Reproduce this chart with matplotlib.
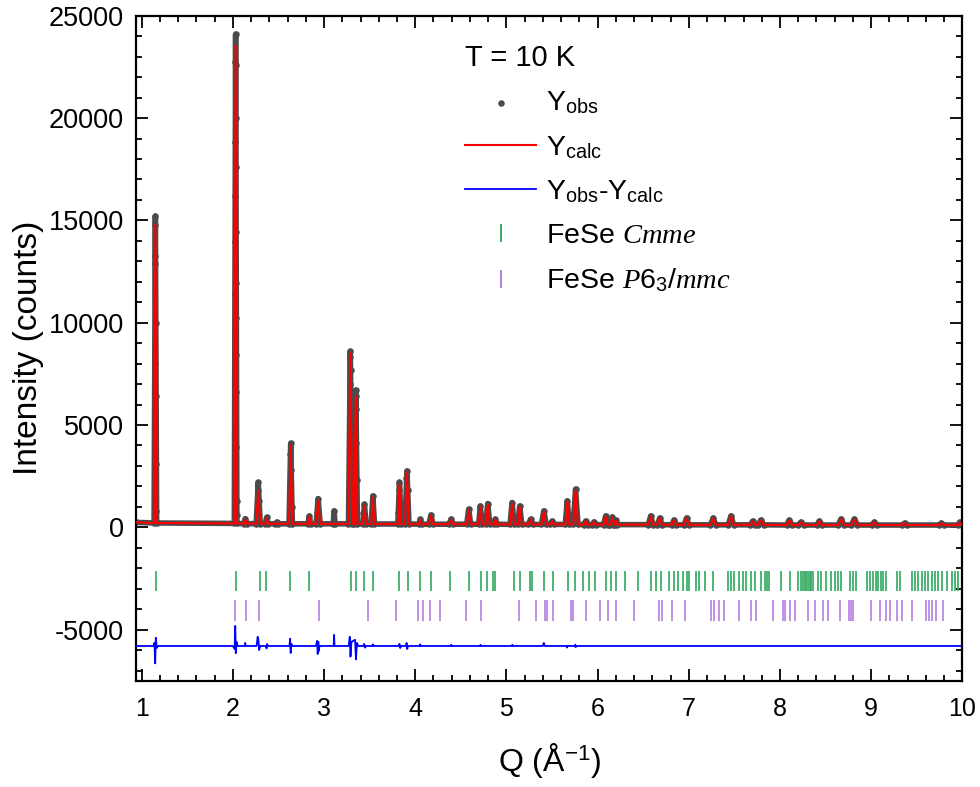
import numpy as np
import matplotlib
matplotlib.use("Agg")
import matplotlib.pyplot as plt
from matplotlib.lines import Line2D
from matplotlib.ticker import MultipleLocator

plt.rcParams['font.family'] = ['Liberation Sans', 'DejaVu Sans']
plt.rcParams['mathtext.fontset'] = 'custom'
plt.rcParams['mathtext.rm'] = 'Liberation Sans'
plt.rcParams['mathtext.it'] = 'Liberation Serif:italic'
plt.rcParams['mathtext.bf'] = 'Liberation Sans:bold'
plt.rcParams['axes.unicode_minus'] = False

# --- peaks of the pattern (Q, observed top, calculated top, half base width, background under it)
peak_q = [1.150, 2.030, 2.137, 2.278, 2.370, 2.480, 2.634, 2.838, 2.935, 3.110,
          3.288, 3.348, 3.443, 3.535, 3.827, 3.909, 4.055, 4.172, 4.392, 4.586,
          4.714, 4.795, 4.879, 5.062, 5.146, 5.264, 5.410, 5.502, 5.667, 5.758,
          5.868, 5.960, 6.088, 6.161, 6.198, 6.582, 6.681, 6.838, 6.975, 7.267,
          7.462, 7.700, 7.790, 8.102, 8.230, 8.432, 8.670, 8.816, 9.036, 9.366,
          9.769, 9.970]
peak_obs = [15200, 24100, 420, 2190, 480, 250, 4100, 550, 1400, 800,
            8600, 6700, 1120, 1530, 2190, 2750, 390, 600, 390, 880,
            1040, 1160, 390, 1210, 1040, 390, 800, 300, 1290, 1860,
            300, 260, 550, 500, 350, 550, 450, 350, 450, 450,
            550, 300, 350, 350, 250, 300, 400, 400, 250, 200,
            200, 250]
peak_calc = [14800, 23550, 380, 1780, 450, 230, 4000, 520, 1300, 200,
             8500, 6400, 1050, 1450, 2100, 2700, 370, 560, 360, 850,
             1000, 1100, 380, 1150, 1000, 380, 760, 280, 1250, 1800,
             290, 250, 530, 480, 340, 530, 440, 340, 440, 430,
             530, 290, 340, 340, 240, 290, 390, 390, 240, 190,
             190, 240]
peak_w = [0.014, 0.014, 0.015, 0.022, 0.015, 0.015, 0.018, 0.015, 0.022, 0.010,
          0.020, 0.018, 0.018, 0.018, 0.018, 0.022, 0.015, 0.022, 0.022, 0.022,
          0.018, 0.022, 0.015, 0.022, 0.022, 0.022, 0.026, 0.022, 0.022, 0.026,
          0.022, 0.022, 0.022, 0.022, 0.018, 0.026, 0.026, 0.026, 0.026, 0.03,
          0.03, 0.026, 0.03, 0.03, 0.03, 0.03, 0.034, 0.034, 0.03, 0.03,
          0.03, 0.022]
peak_base = [210, 190, 180, 180, 170, 170, 170, 170, 170, 170,
             170, 170, 160, 160, 160, 160, 150, 150, 150, 150,
             150, 150, 150, 140, 140, 140, 140, 140, 140, 140,
             130, 130, 130, 130, 130, 130, 130, 120, 120, 120,
             120, 120, 120, 110, 110, 110, 110, 110, 110, 110,
             110, 110]
end_q = [0.94, 10.0]
end_i = [240, 110]

# --- single observed points on the flanks of the strong peaks
flank_q = [1.148, 1.149, 1.147, 1.152, 1.146, 1.153, 1.145, 1.155, 1.143, 1.157,
           2.028, 2.031, 2.029, 2.027, 2.032, 2.026, 2.033, 2.025, 2.034, 2.024,
           2.035, 2.023, 2.036, 2.022, 2.037, 2.021, 2.038, 2.019, 2.040, 2.042,
           3.285, 3.291, 3.283, 3.294, 3.281, 3.296, 3.279, 3.298, 3.276, 3.301,
           3.345, 3.351, 3.343, 3.353, 3.341, 3.356, 3.338, 3.359,
           2.628, 2.640, 2.624, 2.645, 2.272, 2.285, 2.268,
           3.903, 3.916, 3.897, 3.822, 3.833, 3.815]
flank_i = [14770, 13240, 12860, 9980, 8050, 6400, 4700, 3100, 1700, 800,
           22720, 22590, 20000, 18810, 17590, 16200, 14440, 13950, 11930, 11440,
           10220, 9420, 8410, 7970, 6600, 5200, 3900, 2500, 1300, 600,
           8300, 7700, 7000, 6200, 5400, 4500, 3600, 2700, 1800, 1000,
           6400, 5800, 5000, 4100, 3200, 2300, 1400, 700,
           3600, 2800, 1900, 1000, 1800, 1300, 800,
           2400, 1800, 1100, 1800, 1200, 700]

# --- difference curve Yobs - Ycalc (drawn shifted down)
diff_q = [0.94, 1.13, 1.14, 1.148, 1.155, 1.165, 1.18,
          2.00, 2.02, 2.026, 2.032, 2.04, 2.05, 2.13, 2.135, 2.14,
          2.26, 2.272, 2.28, 2.288, 2.30, 2.36, 2.37, 2.375, 2.385,
          2.62, 2.628, 2.634, 2.642, 2.65, 2.91, 2.925, 2.93, 2.937, 2.942, 2.95,
          3.105, 3.11, 3.115, 3.27, 3.282, 3.29, 3.30, 3.34, 3.35, 3.36, 3.375,
          3.43, 3.44, 3.45, 3.46, 3.53, 3.535, 3.54, 3.82, 3.827, 3.835, 3.845,
          3.90, 3.905, 3.912, 3.92, 4.05, 4.055, 4.06, 4.39, 4.395, 4.40,
          4.71, 4.716, 4.72, 5.06, 5.065, 5.07, 5.40, 5.41, 5.42,
          5.66, 5.665, 5.67, 5.75, 5.755, 5.76, 5.765, 10.0]
diff_i = [0, 0, 150, -850, 400, -100, 0,
          0, -150, 980, -350, 200, 0, 0, 150, 0,
          0, 450, 300, -200, 0, 0, -120, 100, 0,
          0, 350, -340, 100, 0, 0, 250, -390, 200, -250, 0,
          0, 540, 0, 0, 450, -520, 200, 300, -650, 150, 0,
          0, 100, -80, 0, 0, 80, 0, 0, 100, -100, 0,
          0, 150, -150, 0, 0, 80, 0, 0, 60, 0,
          0, 60, 0, 0, 60, 0, 0, 150, 0,
          0, -80, 0, 0, 60, -60, 0, 0]
diff_offset = -5800

# --- Bragg reflection positions
cmme_q = [1.154, 2.033, 2.300, 2.363, 2.630, 2.840, 3.297, 3.348, 3.443, 3.535,
          3.827, 3.920, 4.055, 4.176, 4.385, 4.586, 4.725, 4.791, 4.854, 4.871,
          5.080, 5.154, 5.253, 5.275, 5.410, 5.509, 5.678, 5.751, 5.839, 5.904,
          5.967, 6.088, 6.143, 6.198, 6.300, 6.447, 6.582, 6.637, 6.692, 6.784,
          6.838, 6.887, 6.931, 6.978, 6.997, 7.077, 7.113, 7.179, 7.260, 7.425,
          7.462, 7.498, 7.553, 7.590, 7.626, 7.681, 7.722, 7.795, 7.832, 7.857,
          7.879, 8.015, 8.106, 8.198, 8.234, 8.253, 8.271, 8.289, 8.308, 8.326,
          8.344, 8.363, 8.418, 8.454, 8.509, 8.564, 8.601, 8.637, 8.674, 8.766,
          8.802, 8.839, 8.949, 8.985, 9.022, 9.048, 9.077, 9.113, 9.132, 9.168,
          9.278, 9.315, 9.443, 9.480, 9.516, 9.553, 9.590, 9.626, 9.663, 9.700,
          9.736, 9.773, 9.827, 9.882, 9.920, 9.956]
p63_q = [2.020, 2.143, 2.290, 2.940, 3.480, 3.788, 4.026, 4.080, 4.157, 4.275,
         4.557, 4.718, 5.135, 5.319, 5.420, 5.447, 5.509, 5.703, 5.729, 5.868,
         6.025, 6.118, 6.205, 6.399, 6.674, 6.711, 6.821, 6.960, 7.242, 7.278,
         7.326, 7.388, 7.546, 7.681, 7.733, 7.923, 8.033, 8.051, 8.106, 8.168,
         8.308, 8.381, 8.473, 8.527, 8.656, 8.758, 8.784, 8.802, 8.993, 9.095,
         9.161, 9.205, 9.278, 9.333, 9.443, 9.601, 9.637, 9.663, 9.711, 9.791]

GRAY = '#4b4b4b'
GREEN = '#2fa85e'
PURPLE = '#b27ee0'

# polyline nodes: left foot, top, right foot of each peak
pq = np.asarray(peak_q)
pw = np.asarray(peak_w)
pb = np.asarray(peak_base)
node_q = np.concatenate([[end_q[0]], np.column_stack([pq - pw, pq, pq + pw]).ravel(), [end_q[1]]])
node_obs = np.concatenate([[end_i[0]], np.column_stack([pb, peak_obs, pb]).ravel(), [end_i[1]]])
node_calc = np.concatenate([[end_i[0]], np.column_stack([pb, peak_calc, pb]).ravel(), [end_i[1]]])

fig = plt.figure(figsize=(9.8, 7.87), dpi=100)
ax = fig.add_axes([0.139, 0.135, 0.843, 0.845])

# observed: dense points -> thick grey band plus the resolved dots
ax.plot(node_q, node_obs, color=GRAY, lw=4, solid_joinstyle='round', zorder=2)
dots = ax.scatter(np.concatenate([node_q, flank_q]), np.concatenate([node_obs, flank_i]),
                  s=22, color=GRAY, lw=0, zorder=2)
calc, = ax.plot(node_q, node_calc, color='red', lw=1.5, zorder=3)
diff, = ax.plot(diff_q, np.asarray(diff_i) + diff_offset, color='#0000ff', lw=1.3, zorder=3)

ax.vlines(cmme_q, -3120, -2120, color=GREEN, lw=1.4, alpha=0.85, zorder=2)
ax.vlines(p63_q, -4580, -3560, color=PURPLE, lw=1.4, alpha=0.85, zorder=2)

h_cmme = Line2D([], [], color=GREEN, marker='|', ls='none', ms=13, mew=1.4)
h_p63 = Line2D([], [], color=PURPLE, marker='|', ls='none', ms=13, mew=1.4)

ax.set_xlim(0.94, 10.0)
ax.set_ylim(-7500, 25000)
ax.xaxis.set_major_locator(MultipleLocator(1))
ax.xaxis.set_minor_locator(MultipleLocator(0.2))
ax.yaxis.set_major_locator(MultipleLocator(5000))
ax.yaxis.set_minor_locator(MultipleLocator(1000))
ax.tick_params(which='both', direction='in', top=True, right=True, width=1.3)
ax.tick_params(which='major', length=8.5)
ax.tick_params(which='minor', length=4)
ax.tick_params(axis='x', labelsize=18, pad=12)
ax.tick_params(axis='y', labelsize=19.5, pad=9)
for s in ax.spines.values():
    s.set_linewidth(1.6)

ax.set_xlabel(r'Q (Å$^{-1}$)', fontsize=23, labelpad=14)
ax.set_ylabel('Intensity (counts)', fontsize=24, labelpad=3)

leg = ax.legend([dots, calc, diff, h_cmme, h_p63],
                [r'Y$_{\mathrm{obs}}$', r'Y$_{\mathrm{calc}}$',
                 r'Y$_{\mathrm{obs}}$-Y$_{\mathrm{calc}}$',
                 r'FeSe $Cmme$', r'FeSe $\mathit{P6_3/mmc}$'],
                title='T = 10 K', title_fontsize=21, fontsize=20.5,
                loc='upper left', bbox_to_anchor=(0.398, 0.958),
                frameon=False, borderpad=0, borderaxespad=0,
                handlelength=2.5, handletextpad=0.35, labelspacing=0.62,
                alignment='left', scatterpoints=1)

fig.savefig('out.png', dpi=100)
